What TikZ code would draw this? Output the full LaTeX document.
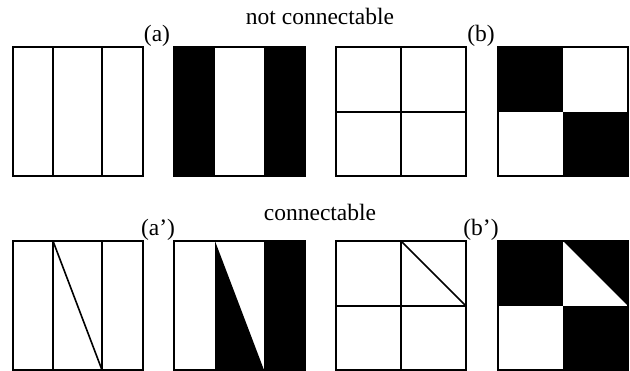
\documentclass[tikz,border=0pt]{standalone}
\usepackage{fontspec}
\setmainfont{Liberation Serif}
\begin{document}
\begin{tikzpicture}[x=1pt,y=-1pt,
  frame/.style={draw=black,line width=1.6pt},
  grid/.style={draw=black,line width=1.6pt},
  lbl/.style={inner sep=0pt,anchor=base,font=\fontsize{23.5}{26}\selectfont},
  ttl/.style={inner sep=0pt,anchor=base,font=\fontsize{23.5}{26}\selectfont}]
\useasboundingbox (0,0) rectangle (630,370);
% titles
\node[ttl] (t1) at (320,24) {not connectable};
\node[ttl] (t2) at (320,220) {connectable};
\node[lbl] (la) at (157,41) {(a)};
\node[lbl] (lb) at (481,41) {(b)};
\node[lbl] (la2) at (158,235) {(a’)};
\node[lbl] (lb2) at (481,235) {(b’)};
% ---- top row ----
% square 1
\draw[grid] (53,47) -- (53,176) (102,47) -- (102,176);
\draw[frame] (13,47) rectangle (143,176);
% square 2
\fill[black] (174,47) rectangle (215,176);
\fill[black] (264,47) rectangle (305,176);
\draw[frame] (174,47) rectangle (305,176);
% square 3
\draw[grid] (401,47) -- (401,176) (336,112) -- (466,112);
\draw[frame] (336,47) rectangle (466,176);
% square 4
\fill[black] (498,47) rectangle (563,112);
\fill[black] (563,112) rectangle (628,176);
\draw[frame] (498,47) rectangle (628,176);
% ---- bottom row ----
% square 1'
\draw[grid] (53,241) -- (53,370) (102,241) -- (102,370) (53,241) -- (102,370);
\draw[frame] (13,241) rectangle (143,370);
% square 2'
\fill[black] (215,241) -- (215,370) -- (264,370) -- cycle;
\fill[black] (264,241) rectangle (305,370);
\draw[frame] (174,241) rectangle (305,370);
% square 3'
\draw[grid] (401,241) -- (401,370) (336,306) -- (466,306) (401,241) -- (466,306);
\draw[frame] (336,241) rectangle (466,370);
% square 4'
\fill[black] (498,241) rectangle (563,306);
\fill[black] (563,241) -- (628,241) -- (628,306) -- cycle;
\fill[black] (563,306) rectangle (628,370);
\draw[frame] (498,241) rectangle (628,370);
\end{tikzpicture}
\end{document}
